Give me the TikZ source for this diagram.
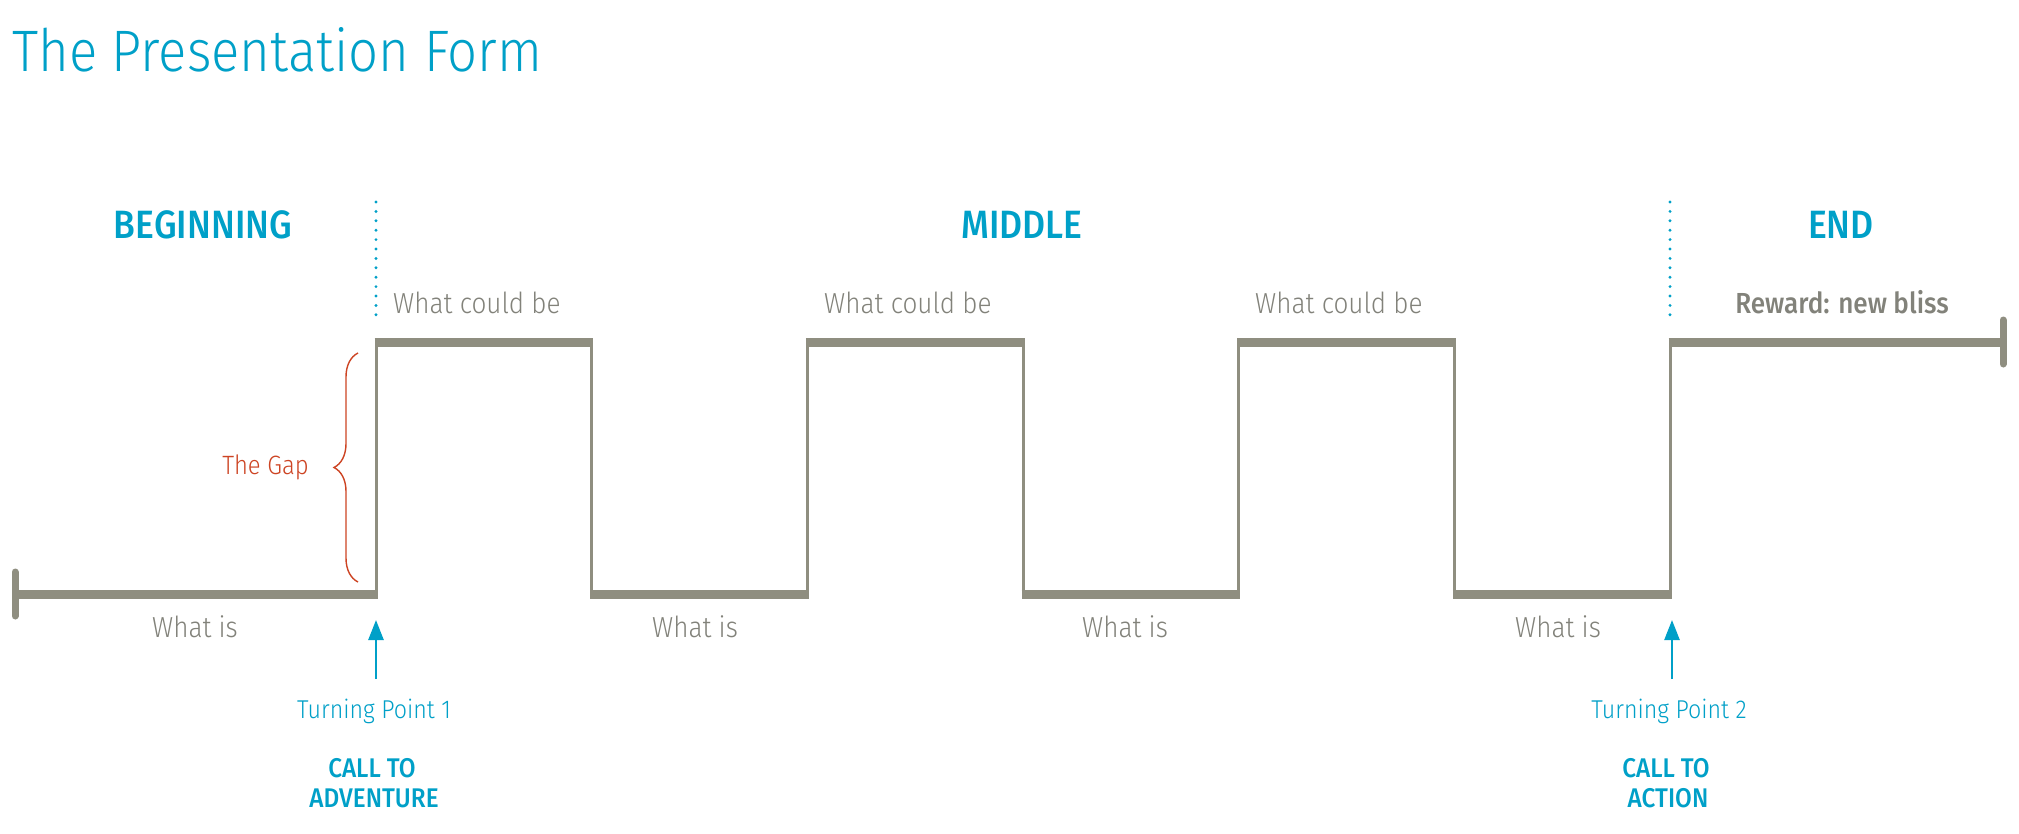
\documentclass[tikz,border=0pt]{standalone}
\usepackage{fontspec}
\setmainfont{Fira Sans Light}[FakeStretch=0.9]
\newfontfamily\medfont{Fira Sans Medium}[FakeStretch=0.9]
\usetikzlibrary{decorations.pathreplacing,arrows.meta}
\definecolor{tcyan}{RGB}{0,160,200}
\definecolor{lgray}{RGB}{143,142,128}
\definecolor{tgray}{RGB}{130,130,122}
\definecolor{tred}{RGB}{205,68,35}
\begin{document}
\begin{tikzpicture}[x=1pt,y=-1pt,
  titletext/.style={anchor=base west,inner sep=0pt,text=tcyan,font=\fontsize{58.5}{62}\selectfont},
  head/.style={anchor=base,inner sep=0pt,text=tcyan,font=\medfont\fontsize{39.5}{42}\selectfont},
  upper/.style={anchor=base west,inner sep=0pt,text=tgray,font=\fontsize{29}{32}\selectfont},
  lower/.style={anchor=base,inner sep=0pt,text=tgray,font=\fontsize{29}{32}\selectfont},
  reward/.style={anchor=base,inner sep=0pt,text=tgray,font=\medfont\fontsize{29}{32}\selectfont},
  turn/.style={anchor=base,inner sep=0pt,text=tcyan,font=\fontsize{25.8}{30}\selectfont},
  calltext/.style={anchor=base,inner sep=0pt,text=tcyan,font=\medfont\fontsize{27}{30}\selectfont},
  gaptext/.style={anchor=base east,inner sep=0pt,text=tred,font=\fontsize{26.5}{30}\selectfont},
  level/.style={draw=lgray,line width=9pt},
  riser/.style={draw=lgray,line width=3pt},
  endbar/.style={draw=lgray,line width=7pt,line cap=round},
  dotline/.style={draw=tcyan,line width=3.2pt,line cap=round,dash pattern=on 0pt off 9.4pt},
  uparrow/.style={draw=tcyan,line width=2.5pt,-{Triangle[length=20pt,width=15pt]}},
  gapbrace/.style={draw=tred,line width=1.4pt,decorate,decoration={brace,amplitude=24pt}}
]
\useasboundingbox (0,0) rectangle (2019,833);
\fill[white] (0,0) rectangle (2019,833);

% title
\node[titletext] (title) at (12,71) {The Presentation Form};

% section headings
\node[head] (hbeg) at (203,238) {BEGINNING};
\node[head] (hmid) at (1022,238) {MIDDLE};
\node[head] (hend) at (1841,238) {END};

% dotted separators
\coordinate (d1a) at (376,202);
\coordinate (d1b) at (376,323);
\coordinate (d2a) at (1670,202);
\coordinate (d2b) at (1670,323);
\draw[dotline] (d1a) -- (d1b);
\draw[dotline] (d2a) -- (d2b);

% wave coordinates
\coordinate (L0) at (15,594);
\coordinate (b0) at (376,594);
\coordinate (t0) at (376,342);
\coordinate (t1) at (591.7,342);
\coordinate (b1) at (591.7,594);
\coordinate (b2) at (807.3,594);
\coordinate (t2) at (807.3,342);
\coordinate (t3) at (1023,342);
\coordinate (b3) at (1023,594);
\coordinate (b4) at (1238.7,594);
\coordinate (t4) at (1238.7,342);
\coordinate (t5) at (1454.3,342);
\coordinate (b5) at (1454.3,594);
\coordinate (b6) at (1670,594);
\coordinate (t6) at (1670,342);
\coordinate (R0) at (2003,342);

% risers
\draw[riser] (b0) -- (t0);
\draw[riser] (t1) -- (b1);
\draw[riser] (b2) -- (t2);
\draw[riser] (t3) -- (b3);
\draw[riser] (b4) -- (t4);
\draw[riser] (t5) -- (b5);
\draw[riser] (b6) -- (t6);

% levels
\draw[level] (L0) -- ([xshift=1.5pt]b0);
\draw[level] ([xshift=-1.5pt]t0) -- ([xshift=1.5pt]t1);
\draw[level] ([xshift=-1.5pt]b1) -- ([xshift=1.5pt]b2);
\draw[level] ([xshift=-1.5pt]t2) -- ([xshift=1.5pt]t3);
\draw[level] ([xshift=-1.5pt]b3) -- ([xshift=1.5pt]b4);
\draw[level] ([xshift=-1.5pt]t4) -- ([xshift=1.5pt]t5);
\draw[level] ([xshift=-1.5pt]b5) -- ([xshift=1.5pt]b6);
\draw[level] ([xshift=-1.5pt]t6) -- (R0);

% end bars
\draw[endbar] ([yshift=-22pt]L0) -- ([yshift=22pt]L0);
\draw[endbar] ([yshift=-22pt]R0) -- ([yshift=22pt]R0);

% upper labels
\node[upper] (up1) at (393,313) {What could be};
\node[upper] (up2) at (824,313) {What could be};
\node[upper] (up3) at (1255,313) {What could be};
\node[reward] (rew) at (1842,313) {Reward: new bliss};

% lower labels
\node[lower] (lo1) at (195,637) {What is};
\node[lower] (lo2) at (695,637) {What is};
\node[lower] (lo3) at (1125,637) {What is};
\node[lower] (lo4) at (1558,637) {What is};

% the gap
\coordinate (g1) at (358,582);
\coordinate (g2) at (358,353);
\draw[gapbrace] (g1) -- (g2);
\node[gaptext] (gap) at (309,474) {The Gap};

% turning points
\coordinate (a1s) at (376,679);
\coordinate (a1e) at (376,620);
\coordinate (a2s) at (1672,679);
\coordinate (a2e) at (1672,620);
\draw[uparrow] (a1s) -- (a1e);
\draw[uparrow] (a2s) -- (a2e);
\node[turn] (tp1) at (374,718) {Turning Point 1};
\node[turn] (tp2) at (1669,718) {Turning Point 2};
\node[calltext] (c1a) at (372,777) {CALL TO};
\node[calltext] (c1b) at (374,807) {ADVENTURE};
\node[calltext] (c2a) at (1666,777) {CALL TO};
\node[calltext] (c2b) at (1668,807) {ACTION};
\end{tikzpicture}
\end{document}
